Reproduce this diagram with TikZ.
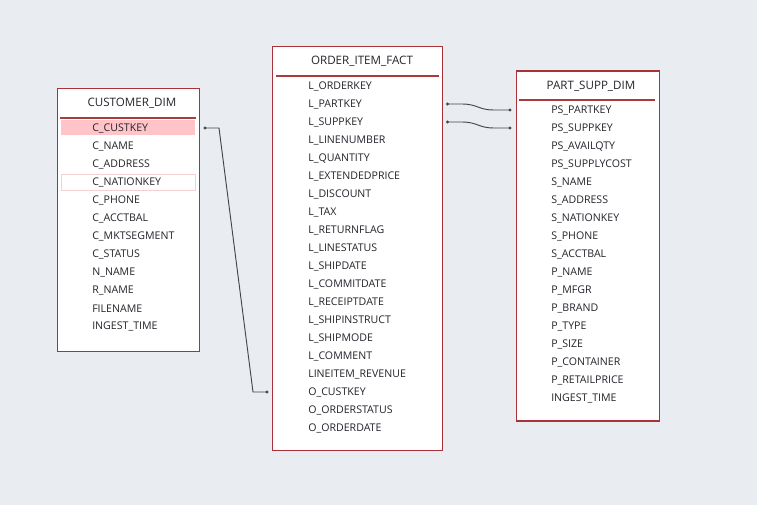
\documentclass[tikz,border=0pt]{standalone}
\usepackage{fontspec}
\setmainfont{Open Sans}
\definecolor{bg}{RGB}{233,236,240}
\definecolor{boxred}{RGB}{168,50,56}
\definecolor{sep}{RGB}{170,60,60}
\definecolor{hl}{RGB}{255,196,200}
\definecolor{hlline}{RGB}{245,208,210}
\definecolor{txt}{RGB}{36,36,44}
\definecolor{conn}{RGB}{70,70,70}
\begin{document}
\begin{tikzpicture}[x=0.75pt,y=-0.75pt,
  tbl/.style={draw=boxred, fill=white, line width=0.8pt, anchor=north west, inner sep=0pt},
  row/.style={anchor=west, inner sep=0pt, text=txt, font=\fontsize{7.95}{10}\selectfont},
  ttl/.style={anchor=center, inner sep=0pt, text=txt, font=\fontsize{8.7}{11}\selectfont},
  sepline/.style={draw=sep, line width=0.8pt},
  link/.style={draw=conn, line width=0.7pt},
  dot/.style={fill=conn}]
\fill[bg] (0,0) rectangle (757,505);
\useasboundingbox (0,0) rectangle (757,505);
% boxes
\node[tbl, minimum width=106.5pt, minimum height=197.25pt] (cust) at (57,88) {};
\node[tbl, minimum width=127.5pt, minimum height=303pt] (fact) at (272,46) {};
\node[tbl, minimum width=107.25pt, minimum height=262.5pt] (part) at (515.5,70.5) {};
% separators
\draw[sepline] (60,118) -- (196,118);
\draw[sepline] (276,76) -- (439,76);
\draw[sepline] (519,100) -- (655,100);
% highlights
\fill[hl] (61,120.5) rectangle (195,135.5);
\draw[hlline, line width=0.6pt] (61,174.5) rectangle (195,190.5);
% titles
\node[ttl] (custT) at (132,103.5) {CUSTOMER\_DIM};
\node[ttl] (factT) at (362,61.5) {ORDER\_ITEM\_FACT};
\node[ttl] (partT) at (591,86.5) {PART\_SUPP\_DIM};
% rows
\foreach \t [count=\i] in {C\_CUSTKEY, C\_NAME, C\_ADDRESS, C\_NATIONKEY, C\_PHONE, C\_ACCTBAL, C\_MKTSEGMENT, C\_STATUS, N\_NAME, R\_NAME, FILENAME, INGEST\_TIME}
  \node[row] (c\i) at (92,{128.7+18*(\i-1)}) {\t};
\foreach \t [count=\i] in {L\_ORDERKEY, L\_PARTKEY, L\_SUPPKEY, L\_LINENUMBER, L\_QUANTITY, L\_EXTENDEDPRICE, L\_DISCOUNT, L\_TAX, L\_RETURNFLAG, L\_LINESTATUS, L\_SHIPDATE, L\_COMMITDATE, L\_RECEIPTDATE, L\_SHIPINSTRUCT, L\_SHIPMODE, L\_COMMENT, LINEITEM\_REVENUE, O\_CUSTKEY, O\_ORDERSTATUS, O\_ORDERDATE}
  \node[row] (f\i) at (308,{86.7+18*(\i-1)}) {\t};
\foreach \t [count=\i] in {PS\_PARTKEY, PS\_SUPPKEY, PS\_AVAILQTY, PS\_SUPPLYCOST, S\_NAME, S\_ADDRESS, S\_NATIONKEY, S\_PHONE, S\_ACCTBAL, P\_NAME, P\_MFGR, P\_BRAND, P\_TYPE, P\_SIZE, P\_CONTAINER, P\_RETAILPRICE, INGEST\_TIME}
  \node[row] (p\i) at (551,{110.7+18*(\i-1)}) {\t};
% connector endpoints
\coordinate (a1) at (205,128);
\coordinate (a2) at (267,392);
\coordinate (b1) at (447.5,104);
\coordinate (b2) at (510,110);
\coordinate (d1) at (447.5,122);
\coordinate (d2) at (510,128);
% connectors
\draw[link] (a1) -- ++(14,0) -- (253,392) -- (a2);
\draw[link] (b1) -- ++(14,0) .. controls (478,104) and (478,110) .. (494,110) -- (b2);
\draw[link] (d1) -- ++(14,0) .. controls (478,122) and (478,128) .. (494,128) -- (d2);
\foreach \p in {a1,a2,b1,b2,d1,d2}
  \fill[dot] (\p) circle (1.6);
\end{tikzpicture}
\end{document}
